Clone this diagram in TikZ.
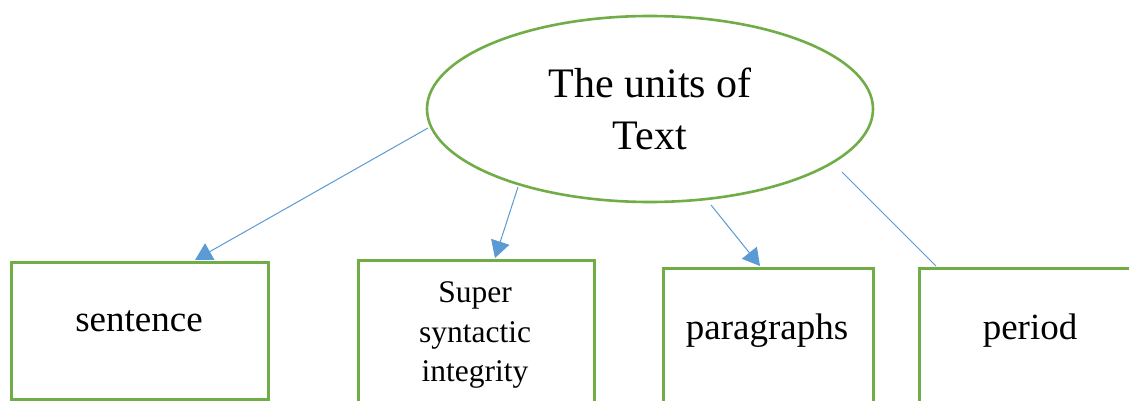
\documentclass[tikz,border=0pt]{standalone}
\usepackage{fontspec}
\setmainfont{Liberation Serif}
\usetikzlibrary{shapes.geometric,arrows.meta}
\definecolor{boxgreen}{HTML}{70AD47}
\definecolor{linkblue}{HTML}{5B9BD5}
\tikzset{
  unitbox/.style={draw=boxgreen, line width=2.6pt, inner sep=0pt, anchor=north west},
  boxtext/.style={inner sep=0pt, font=\fontsize{37}{44}\selectfont},
  link/.style={draw=linkblue, line width=1pt},
  linkarrow/.style={link, -{Triangle[length=17pt,width=19pt]}}
}
\begin{document}
\begin{tikzpicture}[x=1pt,y=-1pt]
\clip (0,0) rectangle (1129,401);
\fill[white] (0,0) rectangle (1129,401);
% central ellipse
\node[ellipse, draw=boxgreen, line width=2.6pt, minimum width=446pt, minimum height=186pt,
      inner sep=0pt, align=center, font=\fontsize{42}{52}\selectfont] (root) at (650,109)
      {The units of\\Text};
% boxes
\node[unitbox, minimum width=257pt, minimum height=137pt] (b1) at (10,261) {};
\node[unitbox, minimum width=236pt, minimum height=180pt] (b2) at (357,259) {};
\node[unitbox, minimum width=210pt, minimum height=180pt] (b3) at (662,267) {};
\node[unitbox, minimum width=260pt, minimum height=180pt] (b4) at (918,267) {};
% box texts
\node[boxtext, anchor=base] (t1) at (139,331) {sentence};
\node[inner sep=0pt, align=center, font=\fontsize{31.5}{39.5}\selectfont] (t2) at (475,335)
      {Super\\syntactic\\integrity};
\node[boxtext, anchor=base] (t3) at (767,339) {paragraphs};
\node[boxtext, anchor=base] (t4) at (1030,339) {period};
% connector end points
\coordinate (s1) at (428,128);
\coordinate (e1) at (195,260);
\coordinate (s2) at (518,187);
\coordinate (e2) at (495,258);
\coordinate (s3) at (711,205);
\coordinate (e3) at (760,266);
\coordinate (s4) at (842,172);
\coordinate (e4) at (936,266);
\draw[linkarrow] (s1) -- (e1);
\draw[linkarrow] (s2) -- (e2);
\draw[linkarrow] (s3) -- (e3);
\draw[link] (s4) -- (e4);
\end{tikzpicture}
\end{document}
